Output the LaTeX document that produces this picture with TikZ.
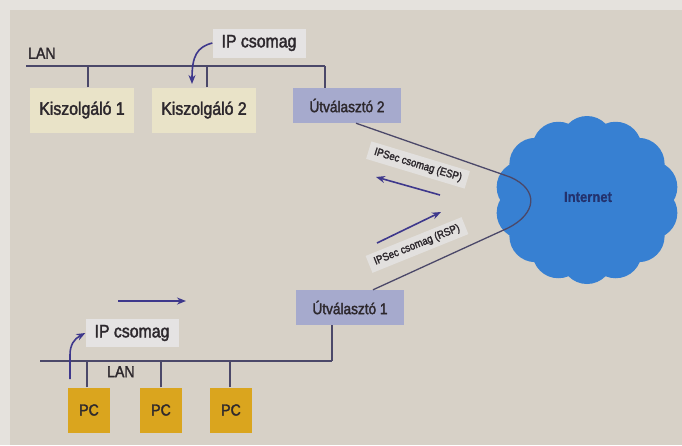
\documentclass[tikz,border=0pt]{standalone}
\usepackage{fontspec}
\setmainfont{Liberation Sans}[FakeStretch=0.88,FakeBold=2]
\newfontfamily\boldlf{Liberation Sans Bold}[FakeStretch=0.9,FakeBold=1]
\usetikzlibrary{calc,arrows.meta}
\definecolor{bgmain}{RGB}{215,209,199}
\definecolor{bgstrip}{RGB}{229,226,221}
\definecolor{kiszfill}{RGB}{233,227,200}
\definecolor{utfill}{RGB}{166,170,205}
\definecolor{ipfill}{RGB}{229,227,227}
\definecolor{secfill}{RGB}{226,224,222}
\definecolor{pcfill}{RGB}{218,165,30}
\definecolor{cloudblue}{RGB}{55,128,210}
\definecolor{linec}{RGB}{75,72,105}
\definecolor{arrowc}{RGB}{62,56,140}
\definecolor{txtc}{RGB}{45,40,45}
\definecolor{inettxt}{RGB}{35,50,110}
\begin{document}
\begin{tikzpicture}[x=1pt,y=-1pt,
  every node/.style={text=txtc},
  serverbox/.style={fill=kiszfill,minimum width=104pt,minimum height=45pt,inner sep=0pt,font=\fontsize{18}{18}\selectfont},
  routerbox/.style={fill=utfill,minimum width=108pt,minimum height=35pt,inner sep=0pt,font=\fontsize{15.5}{16}\selectfont},
  ipbox/.style={fill=ipfill,minimum width=93pt,minimum height=29pt,inner sep=0pt,font=\fontsize{18}{18}\selectfont},
  secbox/.style={fill=secfill,inner xsep=6pt,inner ysep=4pt,font=\fontsize{11}{11}\selectfont},
  pcbox/.style={fill=pcfill,minimum width=42pt,minimum height=45pt,inner sep=0pt,font=\fontsize{16}{16}\selectfont},
  lanlabel/.style={inner sep=0pt,font=\fontsize{16}{16}\selectfont},
  wire/.style={draw=linec,line width=1.6pt},
  flow/.style={draw=arrowc,line width=1.6pt,-{Stealth[length=9pt,width=7pt]}}
]
\useasboundingbox (0,0) rectangle (682,445);
% background
\fill[bgstrip] (0,0) rectangle (682,445);
\fill[bgmain] (10,10) rectangle (682,445);

% ---------- top LAN ----------
\coordinate (lanTopL) at (26,66);
\coordinate (lanTopR) at (325,66);
\node[lanlabel,anchor=south west] (lanTop) at (28,59) {LAN};
\node[serverbox] (k1) at (82,110) {Kiszolgáló 1};
\node[serverbox] (k2) at (204,110) {Kiszolgáló 2};
\node[routerbox] (ut2) at (347,105.5) {Útválasztó 2};
\node[ipbox] (ipTop) at (259,43) {IP csomag};
\draw[wire] (lanTopL) -- (lanTopR);
\draw[wire] (k1.north -| 88,66) -- (88,66);
\draw[wire] (k2.north -| 207,66) -- (207,66);
\draw[wire] (lanTopR) -- (lanTopR |- ut2.north);
\coordinate (ipTopEnd) at (192,84);
\draw[flow] (ipTop.west) .. controls (197,47) and (192,56) .. (ipTopEnd);

% ---------- cloud ----------
\coordinate (cc) at (587,200);
\fill[cloudblue] (cc) ellipse [x radius=66pt, y radius=58pt];
\foreach \a in {0,...,13}{
  \fill[cloudblue] ($(cc)+({66*cos(90+\a*360/14)},{-58*sin(90+\a*360/14)})$) circle (26pt);
}
\node[font=\boldlf\fontsize{14.5}{15}\selectfont,text=inettxt] (inet) at (588,197) {Internet};

% ---------- routers & tunnel ----------
\node[routerbox] (ut1) at (350,307.5) {Útválasztó 1};
\coordinate (tunA) at ($(ut2.south)+(9,0)$);
\coordinate (tunB) at ($(ut1.north)+(23,0)$);
\draw[wire,line width=1.3pt] (tunA) -- (510,177) .. controls (540,190) and (536,214) .. (508,228) -- (tunB);

\node[secbox,rotate=-16.8] (esp) at (418,165) {IPSec csomag (ESP)};
\node[secbox,rotate=22] (rsp) at (417,245) {IPSec csomag (RSP)};
\coordinate (espS) at (440,195);
\coordinate (espE) at (376,177);
\coordinate (rspS) at (377,243);
\coordinate (rspE) at (441,212);
\draw[flow] (espS) -- (espE);
\draw[flow] (rspS) -- (rspE);

% ---------- bottom LAN ----------
\coordinate (lanBotL) at (40,361);
\coordinate (lanBotR) at (332,361);
\node[lanlabel,anchor=north west] (lanBot) at (107,366) {LAN};
\node[pcbox] (pc1) at (89,410) {PC};
\node[pcbox] (pc2) at (161,410) {PC};
\node[pcbox] (pc3) at (231,410) {PC};
\node[ipbox,minimum height=28pt] (ipBot) at (132,333) {IP csomag};
\draw[wire] (lanBotL) -- (lanBotR);
\draw[wire] (lanBotR) -- (lanBotR |- ut1.south);
\draw[wire] (pc1.north -| 87,361) -- (87,361);
\draw[wire] (pc2.north) -- (pc2.north |- lanBotL);
\draw[wire] (pc3.north -| 230,361) -- (230,361);
\coordinate (ipBotStart) at (70,379);
\draw[flow] (ipBotStart) -- (70,355) .. controls (70,345) and (74,339) .. (ipBot.west);
\coordinate (hS) at (118,301);
\coordinate (hE) at (186,301);
\draw[flow] (hS) -- (hE);
\end{tikzpicture}
\end{document}
